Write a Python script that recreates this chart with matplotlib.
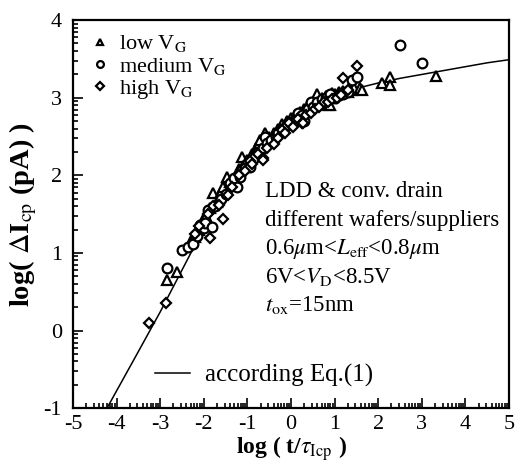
import numpy as np
import matplotlib
matplotlib.use("Agg")
import matplotlib.pyplot as plt
from matplotlib.ticker import FixedLocator

plt.rcParams['font.family'] = ['Liberation Serif', 'DejaVu Serif']
plt.rcParams['mathtext.fontset'] = 'stix'

# ---- data ----
low_x = [-2.85, -2.62, -2.30, -2.20, -2.10, -2.00, -1.95, -1.85, -1.78, -1.70, -1.60, -1.55,
         -1.47, -1.40, -1.30, -1.20, -1.13, -1.10, -1.00, -0.90, -0.80, -0.75, -0.71, -0.60,
         -0.50, -0.40, -0.30, -0.20, -0.10, 0.00, 0.10, 0.20, 0.30, 0.40, 0.50, 0.60,
         0.70, 0.80, 0.85, 0.89, 0.95, 1.00, 1.10, 1.20, 1.30, 1.40, 1.45, 1.58,
         1.62, 2.08, 2.26, 2.26, 3.33]
low_y = [0.65, 0.76, 1.15, 1.20, 1.30, 1.45, 1.48, 1.58, 1.77, 1.65, 1.78, 1.85,
         1.98, 1.92, 1.95, 2.08, 2.24, 2.12, 2.20, 2.28, 2.35, 2.38, 2.45, 2.55,
         2.50, 2.55, 2.60, 2.66, 2.70, 2.74, 2.78, 2.82, 2.85, 2.90, 2.95, 3.05,
         3.00, 3.02, 2.90, 2.90, 3.06, 3.05, 3.07, 3.09, 3.08, 3.10, 3.12, 3.12,
         3.10, 3.19, 3.27, 3.16, 3.28]

med_x = [-2.85, -2.51, -2.36, -2.24, -2.15, -2.09, -2.00, -1.97, -1.90, -1.82, -1.75, -1.60,
         -1.50, -1.40, -1.30, -1.25, -1.17, -1.15, -1.05, -0.94, -0.85, -0.75, -0.65, -0.60,
         -0.55, -0.45, -0.35, -0.30, -0.20, -0.10, 0.00, 0.10, 0.15, 0.20, 0.25, 0.30,
         0.40, 0.45, 0.50, 0.60, 0.70, 0.80, 0.90, 1.00, 1.10, 1.20, 1.30, 1.39,
         1.51, 2.50, 3.00]
med_y = [0.80, 1.04, 1.08, 1.12, 1.22, 1.36, 1.32, 1.38, 1.55, 1.34, 1.60, 1.70,
         1.76, 1.90, 1.96, 1.85, 1.98, 2.05, 2.10, 2.11, 2.22, 2.30, 2.35, 2.50,
         2.42, 2.45, 2.50, 2.55, 2.60, 2.65, 2.68, 2.70, 2.80, 2.75, 2.78, 2.70,
         2.85, 2.95, 2.88, 2.95, 2.98, 3.00, 3.05, 3.00, 3.03, 3.05, 3.08, 3.23,
         3.27, 3.68, 3.45]

high_x = [-3.25, -2.87, -2.20, -2.10, -1.90, -1.86, -1.80, -1.65, -1.55, -1.45, -1.35, -1.20,
          -1.05, -0.95, -0.90, -0.75, -0.65, -0.64, -0.55, -0.40, -0.30, -0.20, -0.15, -0.05,
          0.05, 0.15, 0.25, 0.28, 0.35, 0.45, 0.55, 0.65, 0.75, 0.85, 0.95, 1.05,
          1.15, 1.20, 1.30, 1.52]
high_y = [0.10, 0.36, 1.25, 1.35, 1.50, 1.19, 1.60, 1.62, 1.44, 1.75, 1.85, 2.00,
          2.05, 2.18, 2.15, 2.28, 2.22, 2.20, 2.35, 2.40, 2.48, 2.58, 2.55, 2.68,
          2.62, 2.72, 2.68, 2.67, 2.78, 2.80, 2.85, 2.88, 2.95, 2.95, 2.98, 3.00,
          3.04, 3.26, 3.10, 3.41]

curve_x = [-4.2, -3.5, -3.0, -2.5, -2.0, -1.5, -1.0, -0.5, 0.0, 0.5, 1.0, 1.5,
           2.0, 2.5, 3.0, 3.5, 4.0, 4.5, 5.0]
curve_y = [-0.98, -0.27, 0.24, 0.78, 1.32, 1.80, 2.17, 2.47, 2.72, 2.92, 3.04, 3.12,
           3.19, 3.25, 3.30, 3.35, 3.40, 3.45, 3.49]

xticks = [-5, -4, -3, -2, -1, 0, 1, 2, 3, 4, 5]
yticks = [-1, 0, 1, 2, 3, 4]

info_lines = ['LDD & conv. drain',
              'different wafers/suppliers',
              '0.6$\\mu$m<$L_{\\rm eff}$<0.8$\\mu$m',
              '6V<$V_{\\rm D}$<8.5V',
              '$t_{\\rm ox}$=15nm']

fig = plt.figure(figsize=(5.2, 4.68), dpi=100)
ax = fig.add_axes([0.1404, 0.128, 0.8386, 0.829])

mk = dict(linestyle='none', markerfacecolor='white', markeredgecolor='black',
          markeredgewidth=1.6)
ax.plot(curve_x, curve_y, color='black', lw=1.1, zorder=1)
h1, = ax.plot(low_x, low_y, marker='^', markersize=7, label='low V$_{\\rm G}$', zorder=2, **mk)
h2, = ax.plot(med_x, med_y, marker='o', markersize=7, label='medium V$_{\\rm G}$', zorder=2, **mk)
h3, = ax.plot(high_x, high_y, marker='D', markersize=5.2, label='high V$_{\\rm G}$', zorder=2, **mk)

ax.set_xlim(-5, 5)
ax.set_ylim(-1, 4)
ax.set_xticks(xticks)
ax.set_yticks(yticks)
ax.set_xticklabels([str(t) for t in xticks])
ax.set_yticklabels([str(t) for t in yticks])
mx = [i + np.log10(k) for i in range(-5, 5) for k in range(2, 10)]
my = [i + np.log10(k) for i in range(-1, 4) for k in range(2, 10)]
ax.xaxis.set_minor_locator(FixedLocator(mx))
ax.yaxis.set_minor_locator(FixedLocator(my))
ax.tick_params(which='both', direction='in', top=False, right=False, width=1.2)
ax.tick_params(which='major', length=7, labelsize=16)
ax.tick_params(axis='x', which='major', pad=5)
ax.tick_params(axis='y', which='major', pad=8)
ax.tick_params(which='minor', length=3.5)
for s in ax.spines.values():
    s.set_linewidth(1.6)

ax.set_xlabel('log ( t/$\\tau_{\\rm Icp}$ )', fontsize=17, fontweight='bold', labelpad=0)
ax.set_ylabel('log( $\\Delta$I$_{\\rm cp}$ (pA) )', fontsize=20.5, fontweight='bold', labelpad=3)

leg = ax.legend(handles=[h1, h2, h3], loc='upper left', frameon=False, fontsize=16,
                handlelength=0.8, handletextpad=0.45, labelspacing=0.05,
                borderaxespad=0.2, markerscale=0.7, bbox_to_anchor=(0.012, 1.0))

info_y = [0.544, 0.470, 0.397, 0.323, 0.250]
for txt, yy in zip(info_lines, info_y):
    ax.text(0.440, yy, txt, transform=ax.transAxes, fontsize=16.5, va='baseline', ha='left')

ax.plot([0.188, 0.268], [0.090, 0.090], color='black', lw=1.1, transform=ax.transAxes)
ax.text(0.303, 0.0696, 'according Eq.(1)', transform=ax.transAxes, fontsize=18,
        va='baseline', ha='left')

fig.savefig('out.png', dpi=100)
